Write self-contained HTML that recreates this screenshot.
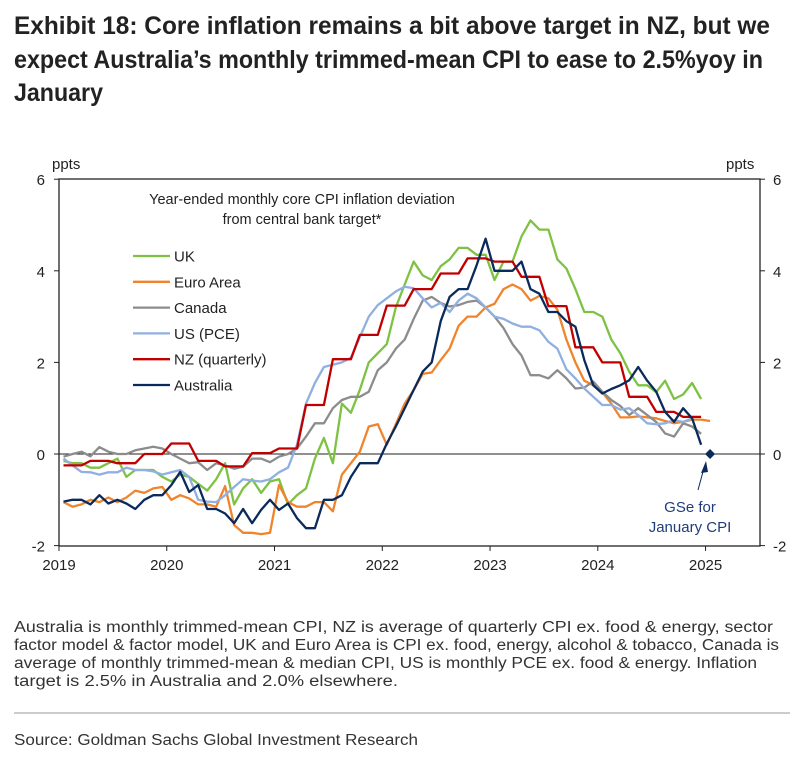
<!DOCTYPE html>
<html><head><meta charset="utf-8"><style>
html,body{margin:0;padding:0;background:#fff;}
svg{display:block;font-family:"Liberation Sans",Arial,sans-serif;}
</style></head><body>
<svg id="chart" width="797" height="758" viewBox="0 0 797 758">
<g fill="#222" font-weight="bold" font-size="25" style="font-family:'Liberation Sans Narrow','Liberation Sans',sans-serif">
<text x="14" y="34" textLength="756" lengthAdjust="spacingAndGlyphs">Exhibit 18: Core inflation remains a bit above target in NZ, but we</text>
<text x="14" y="68" textLength="749" lengthAdjust="spacingAndGlyphs">expect Australia’s monthly trimmed-mean CPI to ease to 2.5%yoy in</text>
<text x="14" y="101" textLength="89" lengthAdjust="spacingAndGlyphs">January</text>
</g>
<g id="plot"></g>
<g fill="#333" font-size="15.5">
<text x="14" y="632" textLength="759" lengthAdjust="spacingAndGlyphs">Australia is monthly trimmed-mean CPI, NZ is average of quarterly CPI ex. food &amp; energy, sector</text>
<text x="14" y="650" textLength="765" lengthAdjust="spacingAndGlyphs">factor model &amp; factor model, UK and Euro Area is CPI ex. food, energy, alcohol &amp; tobacco, Canada is</text>
<text x="14" y="668" textLength="743" lengthAdjust="spacingAndGlyphs">average of monthly trimmed-mean &amp; median CPI, US is monthly PCE ex. food &amp; energy. Inflation</text>
<text x="14" y="686" textLength="384" lengthAdjust="spacingAndGlyphs">target is 2.5% in Australia and 2.0% elsewhere.</text>
</g>
<line x1="14" y1="713" x2="790" y2="713" stroke="#999" stroke-width="1"/>
<text x="14" y="745" fill="#333" font-size="15.5" textLength="404" lengthAdjust="spacingAndGlyphs">Source: Goldman Sachs Global Investment Research</text>
</svg>
<script>
const years = ["2019","2020","2021","2022","2023","2024","2025"];
const yTicks = [6,4,2,0,-2];
const seriesNames = ["UK","Euro Area","Canada","US (PCE)","NZ (quarterly)","Australia"];
const uk = [-0.15,-0.2,-0.2,-0.3,-0.3,-0.2,-0.1,-0.5,-0.35,-0.35,-0.35,-0.5,-0.6,-0.45,-0.5,-0.65,-0.8,-0.55,-0.2,-1.1,-0.75,-0.55,-0.85,-0.6,-0.55,-1.1,-0.9,-0.75,-0.1,0.35,-0.2,1.1,0.9,1.4,2.0,2.2,2.4,3.2,3.7,4.2,3.9,3.8,4.1,4.25,4.5,4.5,4.35,4.35,3.8,4.2,4.2,4.75,5.1,4.9,4.9,4.25,4.05,3.6,3.1,3.1,3.0,2.5,2.2,1.8,1.5,1.5,1.35,1.6,1.2,1.3,1.55,1.2];
const euro = [-1.05,-1.15,-1.1,-1.0,-1.05,-0.95,-1.05,-0.95,-0.8,-0.85,-0.75,-0.72,-1.0,-0.9,-0.97,-1.1,-1.1,-1.15,-0.7,-1.55,-1.72,-1.72,-1.75,-1.72,-0.68,-1.05,-1.15,-1.15,-1.05,-1.05,-1.25,-0.45,-0.2,0.05,0.6,0.65,0.2,0.65,1.1,1.4,1.75,1.78,2.05,2.3,2.8,3.0,3.0,3.2,3.28,3.6,3.7,3.6,3.35,3.45,3.4,3.15,2.5,2.0,1.6,1.5,1.35,1.1,0.8,0.8,0.82,0.8,0.78,0.72,0.67,0.7,0.75,0.75,0.72];
const canada = [-0.06,0.0,0.05,-0.05,0.15,0.05,0.0,0.0,0.08,0.12,0.16,0.12,0.0,-0.1,-0.2,-0.18,-0.35,-0.2,-0.25,-0.32,-0.28,-0.1,-0.1,-0.18,-0.06,0.0,0.12,0.38,0.67,0.67,1.0,1.18,1.25,1.25,1.36,1.83,2.0,2.3,2.5,2.95,3.35,3.43,3.3,3.22,3.25,3.32,3.35,3.2,3.0,2.75,2.4,2.15,1.72,1.72,1.65,1.83,1.65,1.43,1.45,1.58,1.36,1.18,1.05,0.85,1.0,0.85,0.7,0.45,0.38,0.67,0.6,0.44];
const us = [-0.1,-0.25,-0.39,-0.4,-0.45,-0.4,-0.4,-0.3,-0.35,-0.35,-0.38,-0.45,-0.4,-0.35,-0.5,-1.0,-1.04,-1.05,-0.9,-0.72,-0.55,-0.58,-0.6,-0.55,-0.4,-0.3,0.2,1.1,1.55,1.9,1.95,2.0,2.1,2.55,3.0,3.25,3.4,3.55,3.65,3.62,3.4,3.2,3.3,3.1,3.35,3.5,3.4,3.2,3.0,2.95,2.85,2.78,2.78,2.7,2.45,2.3,1.85,1.65,1.43,1.25,1.07,1.07,0.97,1.0,0.85,0.67,0.65,0.67,0.74,0.7,0.78];
const nzQuarterly = [-0.25,-0.15,-0.2,0.0,0.23,-0.15,-0.27,0.02,0.12,1.07,2.07,2.6,3.24,3.6,3.94,4.27,4.2,3.87,3.23,2.33,2.0,1.25,0.92,0.81];
const australia = [-1.04,-1.0,-1.0,-1.1,-0.9,-1.08,-1.0,-1.08,-1.2,-1.0,-0.9,-0.9,-0.68,-0.39,-0.83,-0.68,-1.2,-1.2,-1.3,-1.51,-1.2,-1.51,-1.22,-1.0,-1.22,-1.08,-1.4,-1.62,-1.62,-1.0,-1.0,-0.9,-0.5,-0.2,-0.2,-0.2,0.23,0.6,1.0,1.4,1.8,2.0,2.9,3.43,3.6,3.6,4.12,4.7,4.0,4.0,4.0,4.2,3.6,3.5,3.1,3.1,2.9,2.78,2.05,1.5,1.32,1.42,1.5,1.61,1.9,1.6,1.36,0.92,0.7,1.0,0.78,0.2];
const gseForecast = [0.0];

const NS="http://www.w3.org/2000/svg";
const X0=59, X1=760, YT=179, YB=546, MPX=8.98;
const xm = i => X0 + (i+0.5)*MPX;
const xy = yr => X0 + yr*12*MPX;
const yv = v => 454 - v*45.8;
const plot=document.getElementById('plot');
function mk(tag,attrs,parent){const e=document.createElementNS(NS,tag);for(const k in attrs)e.setAttribute(k,attrs[k]);(parent||plot).appendChild(e);return e;}

const frame=mk('rect',{x:X0,y:YT,width:X1-X0,height:YB-YT,fill:'none',stroke:'#222','stroke-width':1.3});


const zl=mk('line',{x1:X0,x2:X1,y1:yv(0),y2:yv(0),stroke:'#222','stroke-width':1});



yTicks.forEach(v=>{
  const y=yv(v);
  mk('line',{x1:X0-5,x2:X0,y1:y,y2:y,stroke:'#222'});
  mk('line',{x1:X1,x2:X1+5,y1:y,y2:y,stroke:'#222'});
  const l=mk('text',{x:X0-14,y:y+6,'font-size':15,'text-anchor':'end',fill:'#222'});l.textContent=v;
  
  
  const r=mk('text',{x:X1+13,y:y+6,'font-size':15,'text-anchor':'start',fill:'#222'});r.textContent=v;
  
  
});
years.forEach((yr,i)=>{
  const x=xy(i);
  mk('line',{x1:x,x2:x,y1:YB,y2:YB+5,stroke:'#222'});
  const t=mk('text',{x:x,y:YB+24,'font-size':15,'text-anchor':'middle',fill:'#222'});t.textContent=yr;
  
  
});
const pl=mk('text',{x:52,y:169,'font-size':15,fill:'#222'});pl.textContent='ppts';


const pr=mk('text',{x:726,y:169,'font-size':15,fill:'#222'});pr.textContent='ppts';



const st1=mk('text',{x:302,y:204,'font-size':14.5,'text-anchor':'middle',fill:'#222'});st1.textContent='Year-ended monthly core CPI inflation deviation';


const st2=mk('text',{x:302,y:224,'font-size':14.5,'text-anchor':'middle',fill:'#222'});st2.textContent='from central bank target*';



const nz=[];nzQuarterly.forEach(v=>{nz.push(v,v,v);});
const colors=['#7dc242','#f0842c','#8c8c8c','#8fb0e0','#c00000','#0b2a5c'];
const data=[uk,euro,canada,us,nz,australia];
const keys=['uk','euro-area','canada','us-pce','nz','australia'];
data.forEach((arr,s)=>{
  const pts=arr.map((v,i)=>xm(i).toFixed(1)+','+yv(v).toFixed(1)).join(' ');
  const p=mk('polyline',{points:pts,fill:'none',stroke:colors[s],'stroke-width':2.3,'stroke-linejoin':'round'});
  
  
  const ly=256+s*25.8;
  const ll=mk('line',{x1:133,x2:170,y1:ly,y2:ly,stroke:colors[s],'stroke-width':2.3});
  
  
  const lt=mk('text',{x:174,y:ly+5.5,'font-size':15,fill:'#222'});lt.textContent=seriesNames[s];
  
  
});
const dx=xm(72), dy=yv(gseForecast[0]);
const d=mk('polygon',{points:`${dx},${dy-5} ${dx+5},${dy} ${dx},${dy+5} ${dx-5},${dy}`,fill:'#0b2a5c'});


const ar=mk('line',{x1:698,y1:490,x2:704,y2:468,stroke:'#0b2a5c','stroke-width':1});


const ah=mk('polygon',{points:'706,461 701,473 708,472',fill:'#0b2a5c'});


const a1=mk('text',{x:690,y:512,'font-size':15,'text-anchor':'middle',fill:'#1f3d7a'});a1.textContent='GSe for';


const a2=mk('text',{x:690,y:532,'font-size':15,'text-anchor':'middle',fill:'#1f3d7a'});a2.textContent='January CPI';


</script>
</body></html>
